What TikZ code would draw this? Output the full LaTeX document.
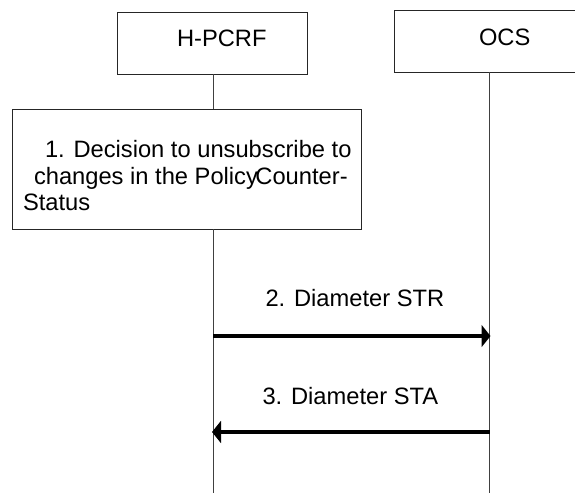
\documentclass[tikz,border=0pt]{standalone}
\usepackage{fontspec}
\setmainfont{Liberation Sans}
\usetikzlibrary{arrows.meta}
\begin{document}
\begin{tikzpicture}[x=1pt,y=-1pt,
  box/.style={draw=black!85, line width=0.9pt, fill=white, inner sep=0pt, outer sep=0pt},
  txt/.style={inner sep=0pt, outer sep=0pt, anchor=base west, font=\fontsize{23.7pt}{26.7pt}\selectfont},
  life/.style={draw=black!75, line width=0.9pt},
  msg/.style={line width=4.5pt, -{Triangle[length=9pt,width=22pt]}, shorten >=-1pt}
]
\useasboundingbox (0,0) rectangle (575,493);
\clip (0,0) rectangle (575,493);
% boxes
\node[box, minimum width=190pt, minimum height=62pt] (hp) at (212,43) {};
\node[box, minimum width=200pt, minimum height=62pt] (ocs) at (494,41) {};
\node[box, minimum width=349pt, minimum height=120pt] (dec) at (186.5,169) {};
% lifeline coordinates
\coordinate (hpb) at (213,493);
\coordinate (ocsb) at (489.5,493);
\coordinate (hpt) at (213,74);
\coordinate (ocst) at (489.5,72);
\coordinate (dtop) at (213,109);
\coordinate (dbot) at (213,229);
\draw[life] (hpt) -- (dtop);
\draw[life] (dbot) -- (hpb);
\draw[life] (ocst) -- (ocsb);
% texts
\node[txt] (hpl) at (177,46.7) {H-PCRF};
\node[txt] (ocsl) at (479,45) {OCS};
\node[txt] (d1) at (45,157.5) {1. Decision to unsubscribe to};
\node[txt] (d2) at (34,184.2) {changes in the Policy\kern-2.5ptCounter-};
\node[txt] (d3) at (23,210.9) {Status};
% messages
\coordinate (a1s) at (213,336);
\coordinate (a1e) at (489.5,336);
\coordinate (a2s) at (489.5,432);
\coordinate (a2e) at (213,432);
\draw[msg] (a1s) -- (a1e);
\draw[msg] (a2s) -- (a2e);
\node[txt] (m1) at (265.5,306.3) {2. Diameter STR};
\node[txt] (m2) at (262.5,404.7) {3. Diameter STA};
\end{tikzpicture}
\end{document}
